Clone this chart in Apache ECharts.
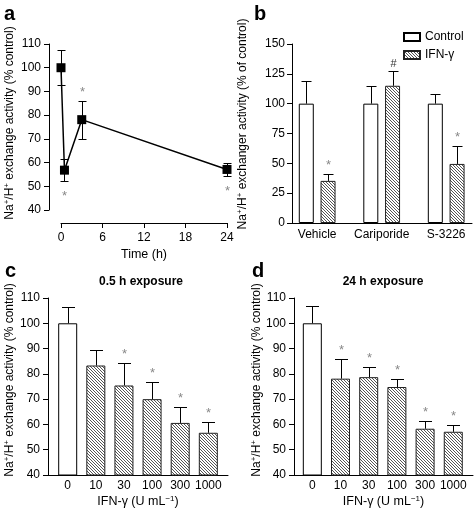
<!DOCTYPE html>
<html><head><meta charset="utf-8">
<script src="https://cdn.jsdelivr.net/npm/echarts@6/dist/echarts.min.js"></script>
<style>html,body{margin:0;padding:0;background:#fff}#c{width:474px;height:512px}</style>
</head><body><div id="c"></div>
<script>
// ---- Panel a: time course ----
const timeA = [0, 0.5, 3, 24];
const meanA = [100, 56.8, 78.1, 57.1];
const semA = [7.4, 4.6, 8.0, 2.7];
const sigA = ['', '*', '*', '*'];
const sigPosA = ['', 'below', 'above', 'below'];

// ---- Panel b: inhibitors ----
const groupsB = ['Vehicle', 'Cariporide', 'S-3226'];
const controlB = [100, 100, 100];
const controlSemB = [19, 15, 8.5];
const ifnB = [35.3, 115, 49.5];
const ifnSemB = [5.5, 12, 15];
const sigControlB = ['', '', ''];
const sigIfnB = ['*', '#', '*'];

// ---- Panels c, d: dose response ----
const doseLabels = ['0', '10', '30', '100', '300', '1000'];
const meanC = [100, 83.3, 75.4, 70.0, 60.6, 56.7];
const semC = [6.4, 6.0, 8.7, 6.8, 6.1, 4.4];
const sigC = ['', '', '*', '*', '*', '*'];
const meanD = [100, 78.1, 78.7, 74.8, 58.3, 57.1];
const semD = [6.7, 7.6, 4.2, 3.3, 3.1, 2.7];
const sigD = ['', '*', '*', '*', '*', '*'];

const FONT = '"Liberation Sans", Arial, Helvetica, sans-serif';

function makeHatch() {
  const c = document.createElement('canvas');
  c.width = 3; c.height = 3;
  const g = c.getContext('2d');
  g.fillStyle = '#ffffff'; g.fillRect(0, 0, 3, 3);
  g.fillStyle = '#555555';
  for (let i = 0; i < 3; i++) g.fillRect(i, i, 1, 1);
  return c;
}
const hatch = { image: makeHatch(), repeat: 'repeat' };
const whiteStyle = { color: '#ffffff', borderColor: '#000', borderWidth: 1 };
const hatchStyle = { color: hatch, borderColor: '#222', borderWidth: 1 };

function errRenderer(opts) {
  return function (params, api) {
    const x = api.value(0), m = api.value(1), e = api.value(2);
    const top = api.coord([x, m + e]);
    const mid = api.coord([x, m]);
    const bot = api.coord([x, m - e]);
    const cx = Math.round(top[0] + (opts.dx || 0)) + 0.5;
    const hw = opts.cap / 2;
    const ls = { stroke: '#000', lineWidth: 1 };
    const ty = Math.round(top[1]) + 0.5, by = Math.round(bot[1]) + 0.5;
    const children = [
      { type: 'line', shape: { x1: cx, y1: opts.both ? by : mid[1], x2: cx, y2: ty }, style: ls },
      { type: 'line', shape: { x1: cx - hw, y1: ty, x2: cx + hw, y2: ty }, style: ls }
    ];
    if (opts.both) children.push({ type: 'line', shape: { x1: cx - hw, y1: by, x2: cx + hw, y2: by }, style: ls });
    const s = opts.sig[params.dataIndex];
    if (s) {
      const below = opts.pos && opts.pos[params.dataIndex] === 'below';
      children.push({
        type: 'text', x: cx, y: below ? by + 15 : ty - (s === '#' ? 8 : 9),
        style: { text: s, fill: s === '#' ? '#333' : '#888', fontSize: s === '#' ? 11 : 13, fontFamily: FONT, align: 'center', verticalAlign: 'middle' }
      });
    }
    return { type: 'group', children };
  };
}

const axisLineS = { show: true, onZero: false, lineStyle: { color: '#000', width: 1 } };
const tickS = { show: true, length: 5, lineStyle: { color: '#000', width: 1 } };
const labS = { color: '#000', fontSize: 12, fontFamily: FONT };
const richSup = { sup: { fontSize: 8, verticalAlign: 'top', fontFamily: FONT, color: '#000', lineHeight: 14 }, n: { fontSize: 12.5, fontFamily: FONT, color: '#000', lineHeight: 14 } };
const richSupSm = { sup: { fontSize: 8, verticalAlign: 'top', fontFamily: FONT, color: '#000', lineHeight: 14 }, n: { fontSize: 12, fontFamily: FONT, color: '#000', lineHeight: 14 } };

function yAx(gi, min, max, interval, extra) {
  return Object.assign({
    type: 'value', gridIndex: gi, min, max, interval,
    axisLine: axisLineS, axisTick: tickS,
    axisLabel: Object.assign({ margin: 8 }, labS), splitLine: { show: false }
  }, extra || {});
}

const doseName = '{n|IFN-γ (U mL}{sup|−1}{n|)}';
const nheName = '{n|Na}{sup|+}{n|/H}{sup|+}{n| exchange activity (% control)}';
const nherName = '{n|Na}{sup|+}{n|/H}{sup|+}{n| exchanger activity (% of control)}';

const option = {
  animation: false,
  backgroundColor: '#fff',
  textStyle: { fontFamily: FONT },
  grid: [
    { left: 61, top: 44, width: 166, height: 166, outerBoundsMode: 'none' },
    { left: 292, top: 44, width: 180, height: 179, outerBoundsMode: 'none' },
    { left: 48, top: 298, width: 180, height: 177, outerBoundsMode: 'none' },
    { left: 294, top: 298, width: 179, height: 177, outerBoundsMode: 'none' }
  ],
  xAxis: [
    { type: 'value', gridIndex: 0, min: 0, max: 24, interval: 6, offset: 13,
      axisLine: axisLineS, axisTick: tickS, axisLabel: Object.assign({ margin: 9 }, labS), splitLine: { show: false },
      name: 'Time (h)', nameLocation: 'middle', nameGap: 25, nameTextStyle: { fontSize: 12.5, color: '#000', fontFamily: FONT } },
    { type: 'value', gridIndex: 1, min: -0.39, max: 2.4,
      axisLine: axisLineS, axisTick: { show: false }, splitLine: { show: false },
      axisLabel: Object.assign({ margin: 6, customValues: [0, 1, 2], formatter: v => groupsB[Math.round(v)] }, labS) },
    { type: 'value', gridIndex: 2, min: -0.7, max: 5.7,
      axisLine: axisLineS, axisTick: { show: false }, splitLine: { show: false },
      axisLabel: Object.assign({ margin: 5, customValues: [0, 1, 2, 3, 4, 5], formatter: v => doseLabels[Math.round(v)] }, labS),
      name: doseName, nameLocation: 'middle', nameGap: 20, nameTextStyle: { rich: richSup } },
    { type: 'value', gridIndex: 3, min: -0.65, max: 5.7,
      axisLine: axisLineS, axisTick: { show: false }, splitLine: { show: false },
      axisLabel: Object.assign({ margin: 5, customValues: [0, 1, 2, 3, 4, 5], formatter: v => doseLabels[Math.round(v)] }, labS),
      name: doseName, nameLocation: 'middle', nameGap: 20, nameTextStyle: { rich: richSup } }
  ],
  yAxis: [
    yAx(0, 40, 110, 10, { offset: 12 }),
    yAx(1, 0, 150, 25, { axisLabel: Object.assign({ margin: 7 }, labS) }),
    yAx(2, 40, 110, 10),
    yAx(3, 40, 110, 10)
  ],
  legend: {
    data: ['Control', 'IFN-γ'], orient: 'vertical', left: 398, top: 26,
    itemWidth: 16, itemHeight: 8, itemGap: 6, selectedMode: false, icon: 'rect',
    textStyle: { fontSize: 12, color: '#000', fontFamily: FONT }
  },
  graphic: [
    { type: 'text', x: 4, y: 14, style: { text: 'a', fontSize: 20, fontWeight: 'bold', fontFamily: FONT, fill: '#000', verticalAlign: 'middle' } },
    { type: 'text', x: 254, y: 14, style: { text: 'b', fontSize: 20, fontWeight: 'bold', fontFamily: FONT, fill: '#000', verticalAlign: 'middle' } },
    { type: 'text', x: 5, y: 271, style: { text: 'c', fontSize: 20, fontWeight: 'bold', fontFamily: FONT, fill: '#000', verticalAlign: 'middle' } },
    { type: 'text', x: 252, y: 271, style: { text: 'd', fontSize: 20, fontWeight: 'bold', fontFamily: FONT, fill: '#000', verticalAlign: 'middle' } },
    { type: 'text', x: 141, y: 281.5, style: { text: '0.5 h exposure', fontSize: 12, fontWeight: 'bold', fontFamily: FONT, fill: '#000', align: 'center', verticalAlign: 'middle' } },
    { type: 'text', x: 383, y: 281.5, style: { text: '24 h exposure', fontSize: 12, fontWeight: 'bold', fontFamily: FONT, fill: '#000', align: 'center', verticalAlign: 'middle' } },
    { type: 'text', x: 10, y: 123, rotation: Math.PI / 2, style: { text: nheName, rich: richSupSm, align: 'center', verticalAlign: 'middle' } },
    { type: 'text', x: 243, y: 124, rotation: Math.PI / 2, style: { text: nherName, rich: richSupSm, align: 'center', verticalAlign: 'middle' } },
    { type: 'text', x: 10, y: 380, rotation: Math.PI / 2, style: { text: nheName, rich: richSupSm, align: 'center', verticalAlign: 'middle' } },
    { type: 'text', x: 257, y: 380, rotation: Math.PI / 2, style: { text: nheName, rich: richSupSm, align: 'center', verticalAlign: 'middle' } }
  ],
  series: [
    // panel a
    { type: 'custom', name: 'errA', xAxisIndex: 0, yAxisIndex: 0, silent: true, z: 1,
      renderItem: errRenderer({ both: true, cap: 8, sig: sigA, pos: sigPosA }),
      data: timeA.map((t, i) => [t, meanA[i], semA[i]]) },
    { type: 'line', name: 'IFN-γ time', xAxisIndex: 0, yAxisIndex: 0, z: 3,
      data: timeA.map((t, i) => [t, meanA[i]]), symbol: 'rect', symbolSize: 9,
      itemStyle: { color: '#000' }, lineStyle: { color: '#000', width: 1.5 } },
    // panel b
    { type: 'bar', name: 'Control', xAxisIndex: 1, yAxisIndex: 1, barWidth: 15, barGap: '45%',
      data: controlB.map((v, i) => [i, v]), itemStyle: whiteStyle },
    { type: 'bar', name: 'IFN-γ', xAxisIndex: 1, yAxisIndex: 1, barWidth: 15, barGap: '45%',
      data: ifnB.map((v, i) => [i, v]), itemStyle: hatchStyle },
    { type: 'custom', name: 'errBc', xAxisIndex: 1, yAxisIndex: 1, silent: true, z: 3,
      renderItem: errRenderer({ dx: -10.9, cap: 10, sig: sigControlB }),
      data: controlB.map((v, i) => [i, v, controlSemB[i]]) },
    { type: 'custom', name: 'errBi', xAxisIndex: 1, yAxisIndex: 1, silent: true, z: 3,
      renderItem: errRenderer({ dx: 10.9, cap: 10, sig: sigIfnB }),
      data: ifnB.map((v, i) => [i, v, ifnSemB[i]]) },
    // panel c
    { type: 'bar', name: 'c', xAxisIndex: 2, yAxisIndex: 2, barWidth: 19,
      data: meanC.map((v, i) => ({ value: [i, v], itemStyle: doseLabels[i] === '0' ? whiteStyle : hatchStyle })) },
    { type: 'custom', name: 'errC', xAxisIndex: 2, yAxisIndex: 2, silent: true, z: 3,
      renderItem: errRenderer({ cap: 13, sig: sigC }),
      data: meanC.map((v, i) => [i, v, semC[i]]) },
    // panel d
    { type: 'bar', name: 'd', xAxisIndex: 3, yAxisIndex: 3, barWidth: 19,
      data: meanD.map((v, i) => ({ value: [i, v], itemStyle: doseLabels[i] === '0' ? whiteStyle : hatchStyle })) },
    { type: 'custom', name: 'errD', xAxisIndex: 3, yAxisIndex: 3, silent: true, z: 3,
      renderItem: errRenderer({ cap: 13, sig: sigD }),
      data: meanD.map((v, i) => [i, v, semD[i]]) }
  ]
};

const chart = echarts.init(document.getElementById('c'), null, { renderer: 'canvas' });
chart.setOption(option);
</script>
</body></html>
